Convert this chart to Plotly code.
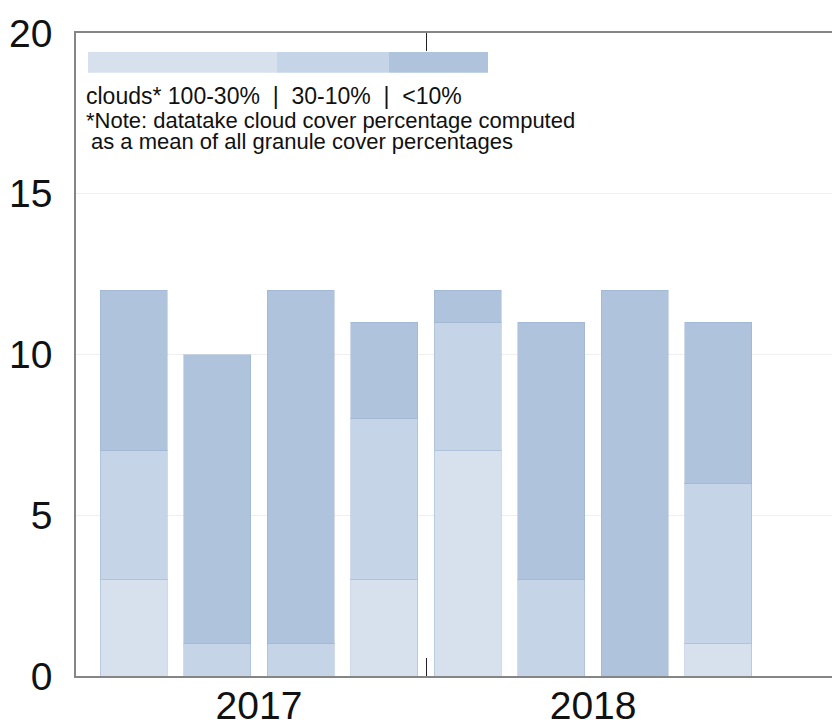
import plotly.graph_objects as go

# ---- data ----
periods = [0, 1, 2, 3, 4, 5, 6, 7]          # quarters 2017 Q1 .. 2018 Q4
clouds_high = [3, 0, 0, 3, 7, 0, 0, 1]      # 100-30 %
clouds_mid = [4, 1, 1, 5, 4, 3, 0, 5]       # 30-10 %
clouds_low = [5, 9, 11, 3, 1, 8, 12, 5]     # <10 %
year_labels = ["2017", "2018"]
year_positions = [1.5, 5.5]
year_divider = [3.5]
y_ticks = [0, 5, 10, 15, 20]
legend_widths = [189, 112, 99]               # swatch strip segments

colors = ["#d7e1ee", "#c6d4e7", "#afc3dd"]
names = ["100-30%", "30-10%", "<10%"]
font = "Liberation Sans, Arial, sans-serif"

fig = go.Figure()
for vals, col, nm in zip([clouds_high, clouds_mid, clouds_low], colors, names):
    fig.add_trace(go.Bar(
        x=periods, y=vals, name=nm, width=0.8,
        marker=dict(color=col, line=dict(color="rgba(150,172,205,0.45)", width=1)),
        showlegend=False, xaxis="x", yaxis="y",
    ))

for w, col, nm in zip(legend_widths, colors, names):
    fig.add_trace(go.Bar(
        x=[w], y=[0], orientation="h", width=1, name=nm,
        marker=dict(color=col, line=dict(width=0)),
        showlegend=False, xaxis="x2", yaxis="y2",
    ))

fig.update_layout(
    width=832, height=723,
    margin=dict(l=76, r=0, t=33, b=47),
    paper_bgcolor="white", plot_bgcolor="white",
    barmode="stack",
    font=dict(family=font, color="#111"),
    xaxis=dict(
        range=[-0.69, 8.36], automargin=False,
        tickmode="array", tickvals=year_positions, ticktext=year_labels,
        ticks="", showgrid=False, zeroline=False,
        showline=True, linecolor="#858585", linewidth=1.5, mirror="ticks",
        tickfont=dict(size=39, family=font, color="#111"),
        ticklabelstandoff=-6,
        minor=dict(tickmode="array", tickvals=year_divider, ticks="inside",
                   ticklen=18, tickwidth=1, tickcolor="#222", showgrid=False),
    ),
    yaxis=dict(
        range=[0, 20], automargin=False,
        tickmode="array", tickvals=y_ticks,
        ticks="", showgrid=True, gridcolor="#efefef", gridwidth=1,
        zeroline=False, showline=True, linecolor="#858585", linewidth=1.5,
        mirror=False,
        tickfont=dict(size=39, family=font, color="#111"),
        ticklabelstandoff=14,
    ),
    xaxis2=dict(domain=[0.0159, 0.545], range=[0, sum(legend_widths)],
                visible=False, fixedrange=True),
    yaxis2=dict(domain=[0.938, 0.9705], range=[-0.5, 0.5],
                visible=False, fixedrange=True),
)

fig.add_annotation(
    text="clouds* 100-30%  |  30-10%  |  &lt;10%",
    xref="paper", yref="paper", x=0.011, y=0.902,
    xanchor="left", yanchor="middle", showarrow=False,
    font=dict(size=23, family=font, color="#111"),
)
fig.add_annotation(
    text="*Note: datatake cloud cover percentage computed",
    xref="paper", yref="paper", x=0.011, y=0.864,
    xanchor="left", yanchor="middle", showarrow=False,
    font=dict(size=22, family=font, color="#111"),
)
fig.add_annotation(
    text="as a mean of all granule cover percentages",
    xref="paper", yref="paper", x=0.0175, y=0.8315,
    xanchor="left", yanchor="middle", showarrow=False,
    font=dict(size=22, family=font, color="#111"),
)

fig.write_html("out.html", config={"displayModeBar": False},
               post_script="document.body.style.margin='0';")
